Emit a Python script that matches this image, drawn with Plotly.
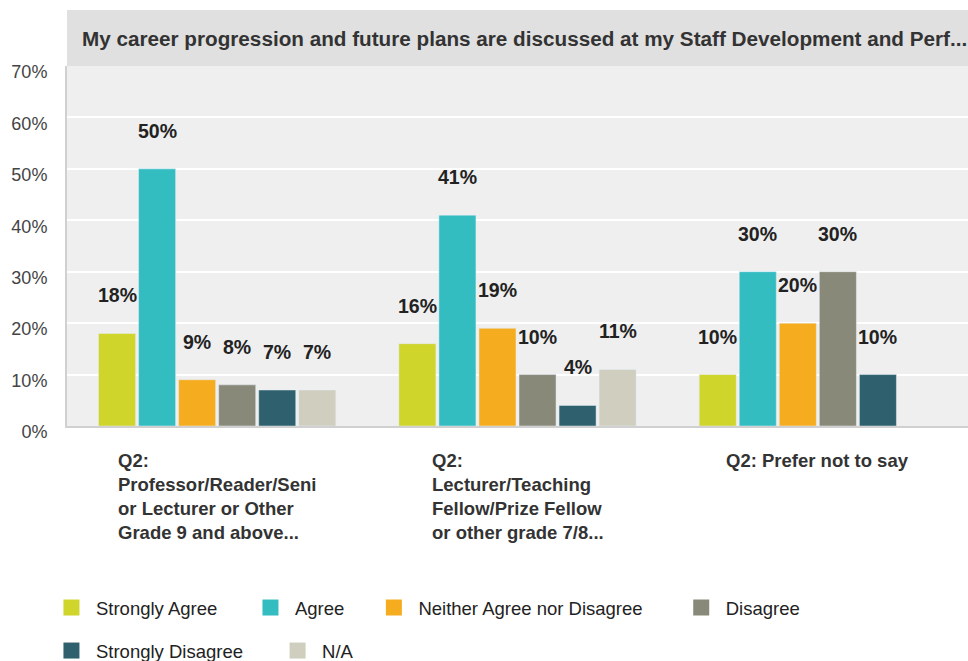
import plotly.graph_objects as go

# Données
categories = ["g1", "g2", "g3"]
category_labels = [
    "Q2:<br>Professor/Reader/Seni<br>or Lecturer or Other<br>Grade 9 and above...",
    "Q2:<br>Lecturer/Teaching<br>Fellow/Prize Fellow<br>or other grade 7/8...",
    "Q2: Prefer not to say",
]
series_names = ["Strongly Agree", "Agree", "Neither Agree nor Disagree",
                "Disagree", "Strongly Disagree", "N/A"]
strongly_agree = [18, 16, 10]
agree = [50, 41, 30]
neither = [9, 19, 20]
disagree = [8, 10, 30]
strongly_disagree = [7, 4, 10]
na = [7, 11, None]
colors = ["#cfd52a", "#33bdc1", "#f5ad1f", "#898979", "#2e606d", "#d0cebf"]
y_ticks = [0, 10, 20, 30, 40, 50, 60, 70]
y_tick_labels = ["0%", "10%", "20%", "30%", "40%", "50%", "60%", "70%"]

series_values = [strongly_agree, agree, neither, disagree, strongly_disagree, na]

FONT = "Liberation Sans, Arial"

fig = go.Figure()

# barres groupées
for name, vals, col in zip(series_names, series_values, colors):
    fig.add_trace(go.Bar(x=categories, y=vals, name=name, marker_color=col,
                         showlegend=False, hovertemplate='%{y}%'))

# étiquettes de valeurs au-dessus des barres
n = len(series_names)
slot = 40  # largeur d'une barre + espace, en px
for i, vals in enumerate(series_values):
    for cat, v in zip(categories, vals):
        if v is None:
            continue
        fig.add_annotation(x=cat, y=v, text=f"{v}%", showarrow=False,
                           xshift=(i - (n - 1) / 2) * slot, yshift=38,
                           yanchor='middle',
                           font=dict(family=FONT, size=19.5,
                                     color="#222222", weight="bold"))

# libellés des catégories (texte aligné à gauche)
for cat, lab in zip(categories, category_labels):
    fig.add_annotation(x=cat, y=0, yref='y', text=lab, showarrow=False,
                       yanchor='top', yshift=-22, align='left',
                       font=dict(family=FONT, size=18.5,
                                 color="#333333", weight="bold"))

# légende : une légende par entrée, placée dans le conteneur (pas d'automargin)
legend_pos = [(0.0485, 0.0802), (0.2541, 0.0802), (0.3816, 0.0802), (0.6991, 0.0802),
              (0.0485, 0.0151), (0.2821, 0.0151)]
for k, (name, col) in enumerate(zip(series_names, colors)):
    lname = "legend" if k == 0 else f"legend{k + 1}"
    fig.add_trace(go.Scatter(x=[None], y=[None], mode='markers', name=name,
                             marker=dict(symbol='square', size=17, color=col),
                             legend=lname, showlegend=True))
    lx, ly = legend_pos[k]
    fig.update_layout({lname: dict(x=lx, y=ly, xref='container', yref='container',
                                   xanchor='left', yanchor='middle',
                                   orientation='h', bgcolor='rgba(0,0,0,0)',
                                   itemwidth=39,
                                   font=dict(family=FONT, size=18.5,
                                             color="#222222"))})

# bandeau du titre
fig.add_shape(type='rect', xref='paper', yref='paper', x0=0, x1=1,
              y0=1, y1=1 + 56 / 360, fillcolor="#e0e0e0", line_width=0,
              layer='below')
fig.add_annotation(xref='paper', yref='paper', x=13 / 901, y=1 + 28 / 360,
                   xanchor='left', yanchor='middle', showarrow=False,
                   text="My career progression and future plans are discussed at my Staff Development and Perf...",
                   font=dict(family=FONT, size=20.7,
                             color="#333333", weight="bold"))

fig.update_layout(
    width=968, height=661,
    margin=dict(l=67, r=0, t=66, b=235, autoexpand=False),
    barmode='group', bargap=0.2, bargroupgap=0.075,
    plot_bgcolor="#efefef", paper_bgcolor="white",
    font=dict(family=FONT),
)
fig.update_xaxes(showticklabels=False, showline=True, linecolor="#d0d0d0",
                 linewidth=2, showgrid=False)
fig.update_yaxes(range=[0, 70], tickmode='array', tickvals=y_ticks,
                 ticktext=y_tick_labels, showline=True, linecolor="#d0d0d0",
                 linewidth=2, gridcolor="white", gridwidth=2, zeroline=False,
                 ticklabelstandoff=14, ticklabelshift=6,
                 tickfont=dict(family=FONT, size=18, color="#444444"))

# enlever la marge par défaut de la page pour que la figure remplisse la fenêtre
fig.write_html("out.html", config={'displayModeBar': False},
               post_script="document.body.style.margin='0';document.body.style.overflow='hidden';")
